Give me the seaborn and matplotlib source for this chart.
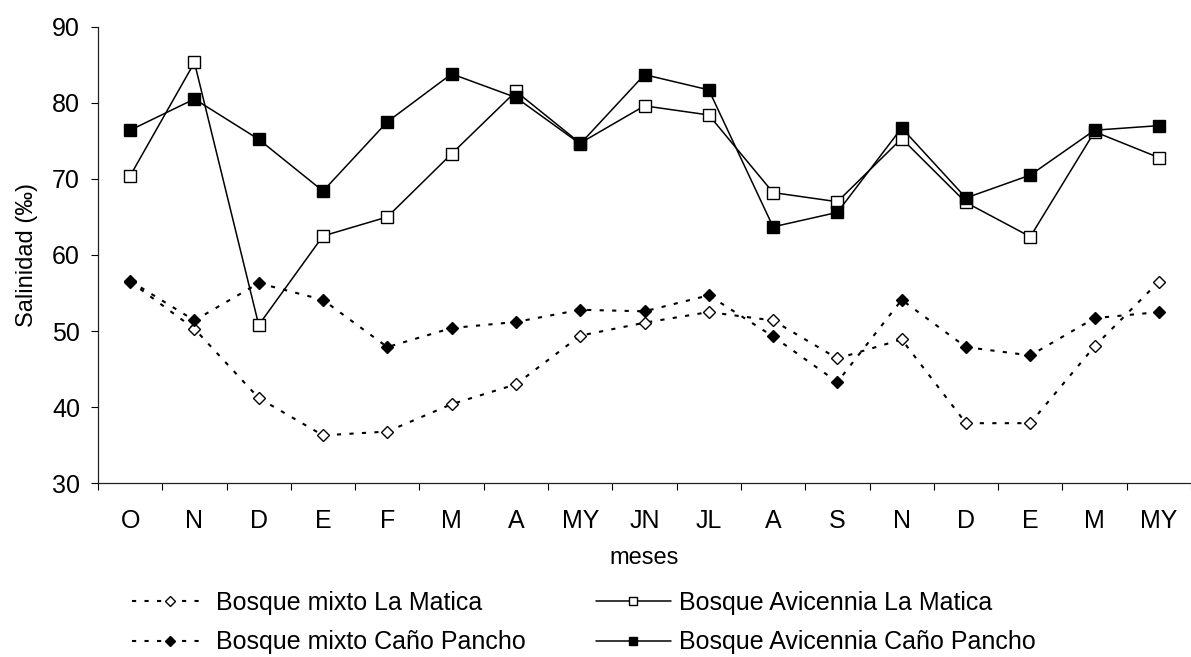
import numpy as np
import matplotlib
matplotlib.use("Agg")
import matplotlib.pyplot as plt
import seaborn as sns

# ---- data ----
meses = ["O", "N", "D", "E", "F", "M", "A", "MY", "JN", "JL",
         "A", "S", "N", "D", "E", "M", "MY"]
mixto_la_matica = [56.5, 50.3, 41.2, 36.3, 36.8, 40.4, 43.0, 49.4, 51.1, 52.5,
                   51.4, 46.4, 48.9, 37.9, 37.9, 48.0, 56.5]
mixto_cano_pancho = [56.6, 51.4, 56.3, 54.1, 47.9, 50.4, 51.2, 52.8, 52.6, 54.7,
                     49.3, 43.3, 54.1, 47.9, 46.8, 51.7, 52.5]
avicennia_la_matica = [70.4, 85.3, 50.8, 62.5, 65.0, 73.3, 81.5, 74.7, 79.6, 78.4,
                       68.2, 67.0, 75.3, 66.9, 62.4, 76.2, 72.8]
avicennia_cano_pancho = [76.4, 80.5, 75.2, 68.4, 77.5, 83.8, 80.7, 74.6, 83.7, 81.7,
                         63.7, 65.6, 76.7, 67.5, 70.5, 76.4, 77.0]
etiquetas = ["Bosque mixto La Matica", "Bosque mixto Caño Pancho",
             "Bosque Avicennia La Matica", "Bosque Avicennia Caño Pancho"]
y_ticks = [30, 40, 50, 60, 70, 80, 90]

sns.set_theme(style="ticks")
plt.rcParams["font.family"] = ["Liberation Sans", "DejaVu Sans"]
plt.rcParams["text.color"] = "black"
plt.rcParams["axes.labelcolor"] = "black"
plt.rcParams["xtick.color"] = "black"
plt.rcParams["ytick.color"] = "black"

W, H = 1191, 657
fig = plt.figure(figsize=(W / 100, H / 100), dpi=100)
ax = fig.add_axes([98 / W, 1 - 483.3 / H, 1 - 98 / W, (483.3 - 26.7) / H])

x = np.arange(len(meses))
dotted = (0, (2, 4))
series = [
    (mixto_la_matica, dotted, "D", "white", 6.3, 1.5),
    (mixto_cano_pancho, dotted, "D", "black", 6.3, 1.5),
    (avicennia_la_matica, "-", "s", "white", 8.3, 1.1),
    (avicennia_cano_pancho, "-", "s", "black", 8.3, 1.1),
]
for vals, ls, mk, fc, ms, lw in series:
    sns.lineplot(x=x, y=vals, ax=ax, color="black", linestyle=ls, linewidth=lw,
                 marker=mk, markersize=ms, markerfacecolor=fc,
                 markeredgecolor="black", markeredgewidth=1.0,
                 errorbar=None, legend=False)

lines = ax.get_lines()
for ln, lab in zip(lines, etiquetas):
    ln.set_label(lab)

ax.set_xlim(-0.5, 16.42)
ax.set_ylim(30, 90)
ax.set_yticks(y_ticks)
ax.set_xticks(x)
ax.set_xticklabels(meses)
ax.set_xticks(np.arange(-0.5, 17, 1), minor=True)
ax.tick_params(axis="x", which="major", length=0, pad=18.5, labelsize=18)
ax.tick_params(axis="x", which="minor", length=5, width=0.8, direction="out")
ax.tick_params(axis="y", length=5, width=0.8, pad=8, labelsize=18)
sns.despine(ax=ax)
for s in ("left", "bottom"):
    ax.spines[s].set_linewidth(0.9)
    ax.spines[s].set_color("#222222")

ax.set_ylabel("Salinidad (‰)", fontsize=17, labelpad=10)
ax.set_xlabel("meses", fontsize=17, labelpad=10)

fig.legend(handles=lines, labels=etiquetas, loc="upper left",
           bbox_to_anchor=(132 / W, 1 - 591 / H), ncol=2, frameon=False,
           fontsize=18, handlelength=3.0, handletextpad=0.35,
           columnspacing=2.8, labelspacing=0.62, borderpad=0,
           borderaxespad=0, markerscale=0.75)

fig.savefig("out.png", dpi=100)
